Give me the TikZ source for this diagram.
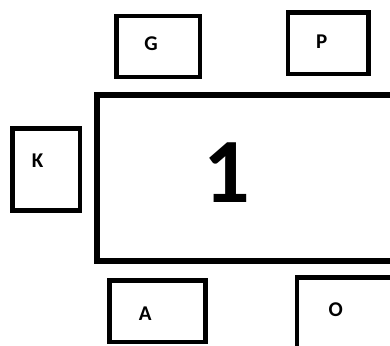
\documentclass[tikz,border=0pt]{standalone}
\usepackage{fontspec}
\setmainfont{Carlito}
\begin{document}
\begin{tikzpicture}[x=1pt,y=-1pt,
    seat/.style={draw,line width=4.7pt,inner sep=0pt},
    seatlabel/.style={inner sep=0pt,font=\fontsize{21}{21}\selectfont\bfseries}]
    \useasboundingbox (0,0) rectangle (390,345);
    \clip (0,0) rectangle (390,345);
    % table
    \node[draw,line width=5.3pt,inner sep=0pt,minimum width=310pt,minimum height=166pt]
        (table) at (252,178) {};
    \node[inner sep=0pt,font=\fontsize{92}{92}\selectfont\bfseries] (num) at (227,173) {1};
    % seats
    \node[seat,minimum width=83.3pt,minimum height=61pt] (g) at (158.3,46.5) {};
    \node[seat,minimum width=80.7pt,minimum height=61.3pt] (p) at (328.3,43.3) {};
    \node[seat,minimum width=67.3pt,minimum height=82.4pt] (k) at (46.3,169.5) {};
    \node[seat,minimum width=96pt,minimum height=61.3pt] (a) at (157.7,311.3) {};
    \node[seat,minimum width=95pt,minimum height=82pt] (o) at (344.5,318.7) {};
    % labels
    \node[seatlabel] (gl) at (151,44) {G};
    \node[seatlabel] (pl) at (321.7,42) {P};
    \node[seatlabel] (kl) at (37.7,160.7) {K};
    \node[seatlabel] (al) at (145.3,314) {A};
    \node[seatlabel] (ol) at (335.7,310) {O};
\end{tikzpicture}
\end{document}
